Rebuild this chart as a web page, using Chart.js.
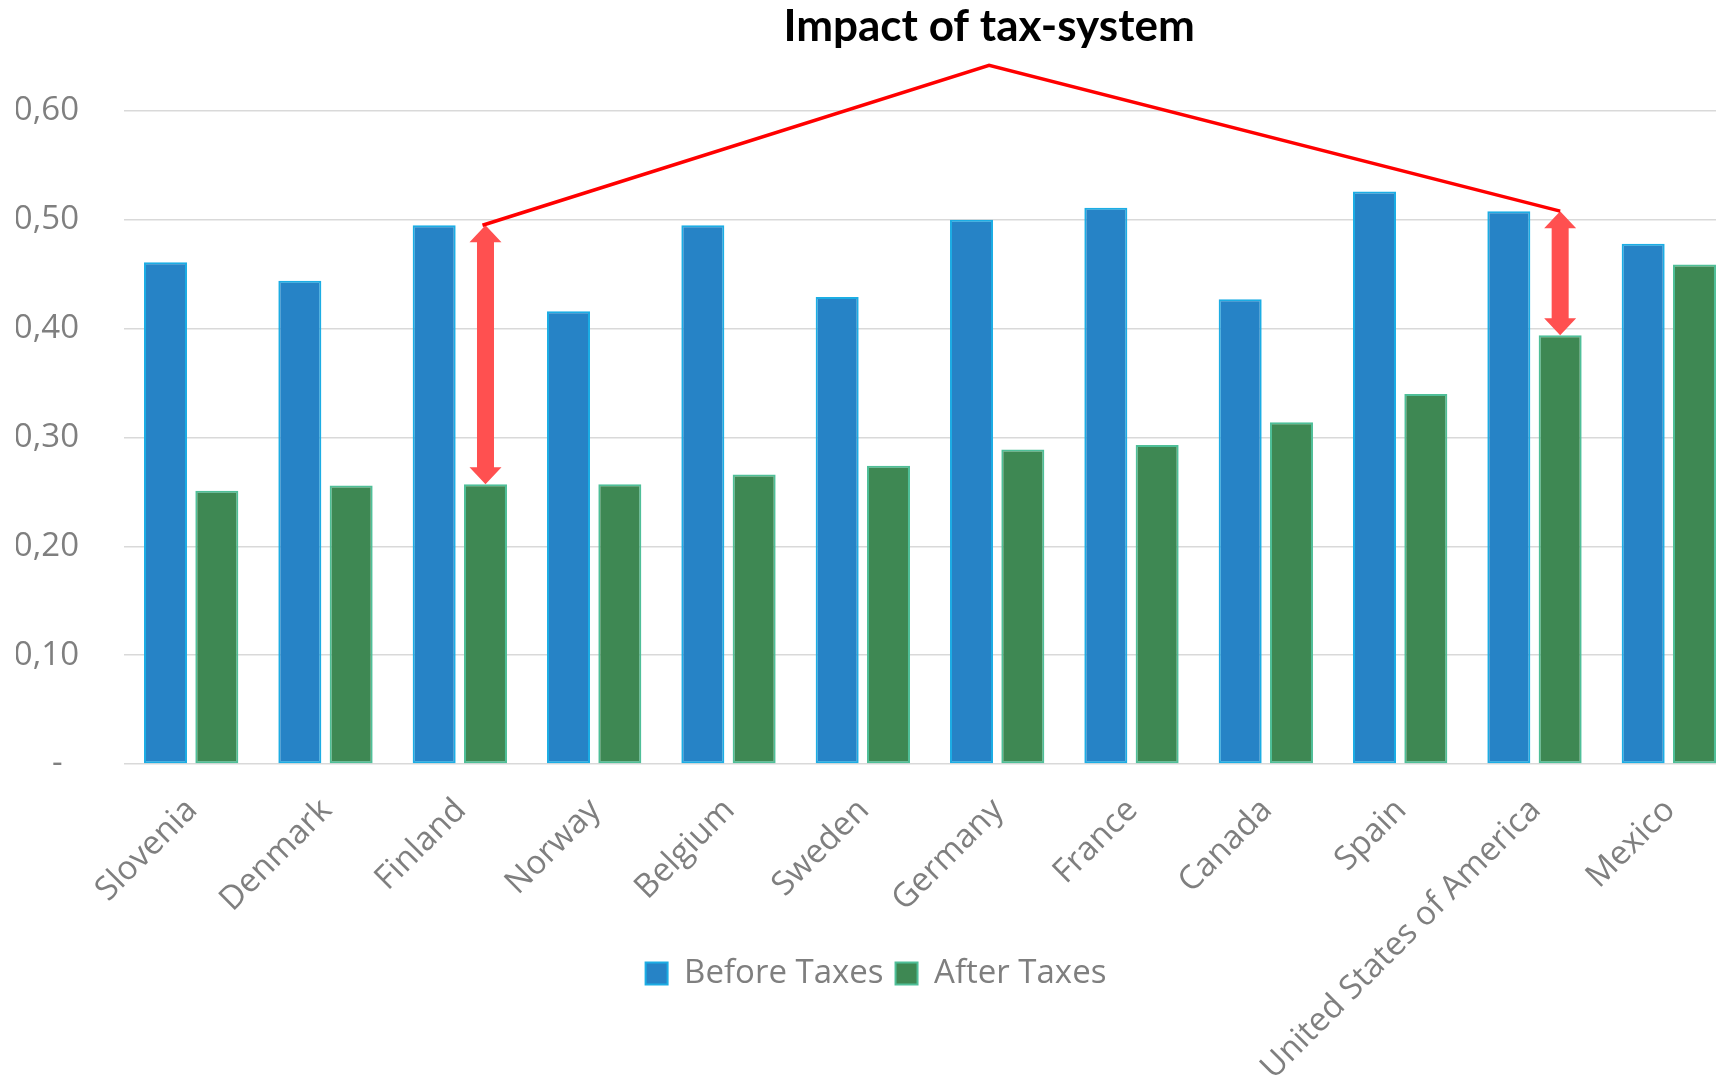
<!DOCTYPE html>
<html>
<head>
<meta charset="utf-8">
<title>Impact of tax-system</title>
<script src="https://cdn.jsdelivr.net/npm/chart.js@4.4.0/dist/chart.umd.min.js"></script>
<style>
    html, body { margin: 0; padding: 0; background: #fff; overflow: hidden; }
    #wrap { width: 1736px; height: 1075px; }
</style>
</head>
<body>
<div id="wrap"><canvas id="grafico"></canvas></div>
<script>
const countries = ["Slovenia", "Denmark", "Finland", "Norway", "Belgium", "Sweden", "Germany",
    "France", "Canada", "Spain", "United States of America", "Mexico"];
const beforeTaxes = [0.461, 0.444, 0.495, 0.416, 0.495, 0.429, 0.500, 0.511, 0.427, 0.526, 0.508, 0.478];
const afterTaxes = [0.251, 0.256, 0.257, 0.257, 0.266, 0.274, 0.289, 0.293, 0.314, 0.340, 0.394, 0.459];
const yTicks = [0, 0.1, 0.2, 0.3, 0.4, 0.5, 0.6];

// countries that get a before/after arrow, and where the callout lines meet
const arrowCountries = ["Finland", "United States of America"];
const calloutApex = { index: 5.94, value: 0.642 };
const chartTitle = "Impact of tax-system";

const grey = "#7f7f7f";
const axisFont = { family: "'Open Sans', sans-serif", size: 33 };

function formatTick(value) {
    if (value === 0) return "-\u2002";
    return value.toFixed(2).replace(".", ",");
}

function drawArrow(ctx, x, yTop, yBottom) {
    const shaft = 8.5, head = 16, headLen = 17;
    ctx.beginPath();
    ctx.moveTo(x, yTop);
    ctx.lineTo(x + head, yTop + headLen);
    ctx.lineTo(x + shaft, yTop + headLen);
    ctx.lineTo(x + shaft, yBottom - headLen);
    ctx.lineTo(x + head, yBottom - headLen);
    ctx.lineTo(x, yBottom);
    ctx.lineTo(x - head, yBottom - headLen);
    ctx.lineTo(x - shaft, yBottom - headLen);
    ctx.lineTo(x - shaft, yTop + headLen);
    ctx.lineTo(x - head, yTop + headLen);
    ctx.closePath();
    ctx.fillStyle = "#ff5050";
    ctx.fill();
}

// the long rotated labels hang down past the legend line, so let the x axis
// keep its small layout height but draw labels down to the bottom of the canvas
const labelRoomPlugin = {
    id: "labelRoom",
    afterLayout(chart) {
        chart.scales.x.bottom = chart.height;
    }
};

// arrows, callout lines and the title
const calloutPlugin = {
    id: "callout",
    afterDraw(chart) {
        const ctx = chart.ctx;
        const xs = chart.scales.x, ys = chart.scales.y;
        const green = chart.getDatasetMeta(1).data;
        const tops = [];

        arrowCountries.forEach(function(name) {
            const i = countries.indexOf(name);
            const x = green[i].x;
            const yTop = ys.getPixelForValue(beforeTaxes[i]);
            const yBottom = ys.getPixelForValue(afterTaxes[i]);
            drawArrow(ctx, x, yTop, yBottom);
            tops.push({ x: x, y: yTop });
        });

        const apexX = xs.getPixelForValue(calloutApex.index);
        const apexY = ys.getPixelForValue(calloutApex.value);
        ctx.save();
        ctx.strokeStyle = "#ff0000";
        ctx.lineWidth = 3.5;
        ctx.beginPath();
        ctx.moveTo(tops[0].x - 3, tops[0].y);
        ctx.lineTo(apexX, apexY);
        ctx.lineTo(tops[1].x, tops[1].y);
        ctx.stroke();

        ctx.fillStyle = "#000";
        ctx.font = "bold 44px Lato, sans-serif";
        ctx.textAlign = "center";
        ctx.textBaseline = "alphabetic";
        ctx.fillText(chartTitle, apexX, 41);
        ctx.restore();
    }
};

document.addEventListener("DOMContentLoaded", function() {
    const ctx = document.getElementById("grafico").getContext("2d");
    new Chart(ctx, {
        type: "bar",
        data: {
            labels: countries,
            datasets: [{
                label: "Before Taxes",
                data: beforeTaxes,
                backgroundColor: "#2683c6",
                borderColor: "#1cade4",
                borderWidth: 2,
                borderSkipped: false
            }, {
                label: "After Taxes",
                data: afterTaxes,
                backgroundColor: "#3e8853",
                borderColor: "#4fbf98",
                borderWidth: 2,
                borderSkipped: false
            }]
        },
        options: {
            responsive: true,
            maintainAspectRatio: false,
            animation: false,
            categoryPercentage: 0.764,
            barPercentage: 0.838,
            // left padding only nudges the legend; the y axis gives it back below
            layout: { padding: { top: 111, right: 0, bottom: 75, left: 16 } },
            plugins: {
                title: { display: false },
                tooltip: { enabled: false },
                legend: {
                    position: "bottom",
                    labels: {
                        color: grey,
                        font: axisFont,
                        boxWidth: 22,
                        boxHeight: 22,
                        padding: 12
                    }
                }
            },
            scales: {
                x: {
                    grid: { display: false },
                    border: { display: false },
                    ticks: {
                        color: grey,
                        font: axisFont,
                        minRotation: 45,
                        maxRotation: 45,
                        padding: 19,
                        labelOffset: 1,
                        autoSkip: false
                    },
                    afterFit: function(scale) { scale.height = 181; }
                },
                y: {
                    min: 0,
                    max: 0.6,
                    grid: { color: "#d9d9d9", lineWidth: 1.5, drawTicks: false },
                    border: { display: false },
                    afterBuildTicks: function(scale) {
                        scale.ticks = yTicks.map(function(v) { return { value: v }; });
                    },
                    ticks: {
                        color: grey,
                        font: axisFont,
                        padding: 45,
                        callback: formatTick
                    },
                    afterFit: function(scale) { scale.width = 108; }
                }
            }
        },
        plugins: [labelRoomPlugin, calloutPlugin]
    });
});
</script>
</body>
</html>
